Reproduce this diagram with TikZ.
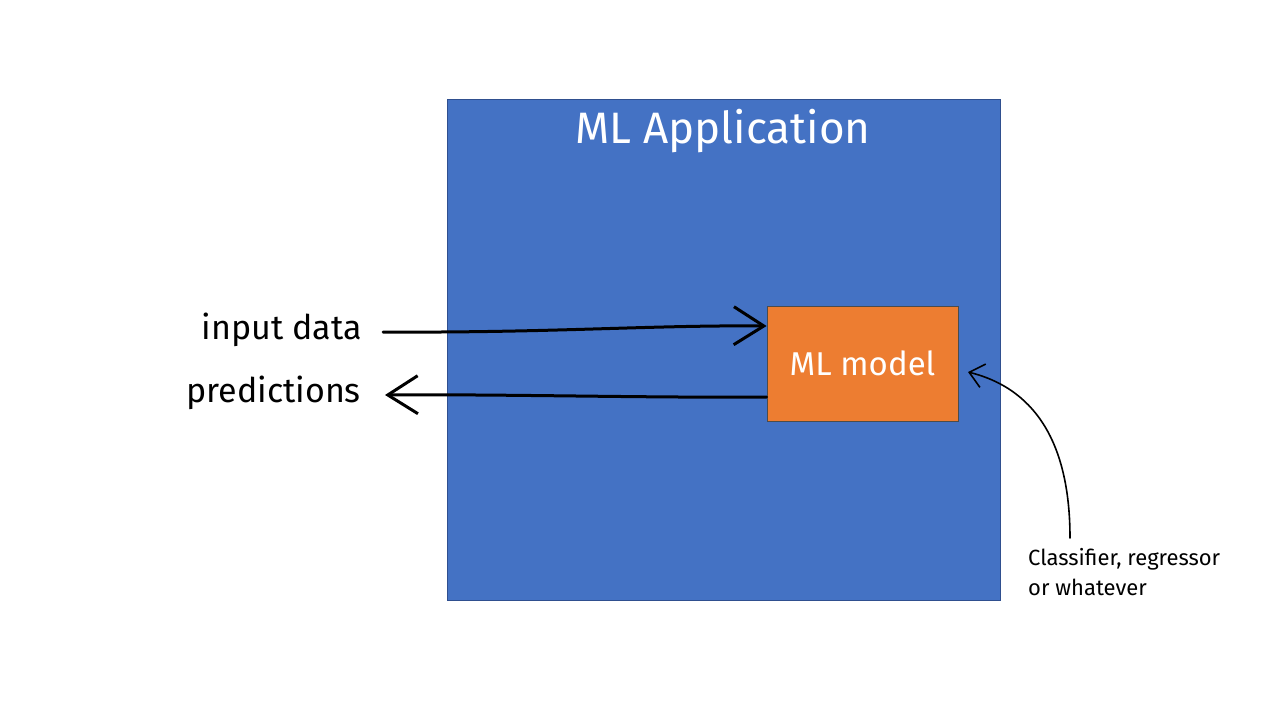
\documentclass[tikz,border=0pt]{standalone}
\usepackage{fontspec}
\setmainfont{Fira Sans}
\usetikzlibrary{arrows.meta}
\definecolor{appblue}{HTML}{4472C4}
\definecolor{modelorange}{HTML}{ED7D31}
\definecolor{edgeblue}{HTML}{2F4F8F}
\begin{document}
\begin{tikzpicture}[x=1pt,y=-1pt,
  appbox/.style={draw=edgeblue,line width=1pt,fill=appblue},
  modelbox/.style={draw=black!70,line width=0.8pt,fill=modelorange,minimum width=191pt,minimum height=115pt,text=white,font=\fontsize{33}{36}\selectfont},
  lbl/.style={text=black,font=\fontsize{34}{38}\selectfont,inner sep=0pt},
  note/.style={text=black,font=\fontsize{22}{30}\selectfont,align=left,inner sep=0pt},
  bigarrow/.style={line width=3pt,line cap=round,-{Straight Barb[length=30pt,width=38pt,line width=3pt]}},
  thinarrow/.style={line width=1.6pt,line cap=round,-{Straight Barb[length=14pt,width=24pt,line width=1.6pt]}}]
\useasboundingbox (0,0) rectangle (1280,720);
\fill[white] (0,0) rectangle (1280,720);
\draw[appbox] (447,99) rectangle (1000,600);
\node[text=white,font=\fontsize{44}{48}\selectfont] (title) at (723,131) {ML Application};
\node[modelbox] (model) at (862.5,363.5) {ML model};
\node[lbl,anchor=east] (input) at (362,330) {input data};
\node[lbl,anchor=east] (pred) at (361,393) {predictions};
\node[note,anchor=north west] (note) at (1028,548) {Classifier, regressor\\or whatever};
\coordinate (inStart) at (383,332);
\coordinate (predEnd) at (385,395);
\coordinate (noteTop) at (1070,538);
\coordinate (modelRight) at (968,372);
\draw[bigarrow] (inStart) .. controls (550,333) and (650,325) .. (model.west |- 0,326);
\draw[bigarrow] (model.west |- 0,397) .. controls (650,398) and (500,394) .. (predEnd);
\draw[thinarrow] (noteTop) .. controls (1070,450) and (1040,390) .. (modelRight);
\end{tikzpicture}
\end{document}
